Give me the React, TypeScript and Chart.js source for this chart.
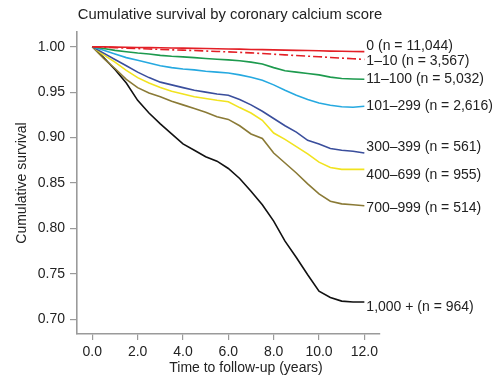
import React, { useEffect, useRef } from "react";
import { Chart, registerables } from "chart.js";

Chart.register(...registerables);

const titleText = "Cumulative survival by coronary calcium score";
const xTitle = "Time to follow-up (years)";
const yTitle = "Cumulative survival";

const years = [0, 0.5, 1, 1.5, 2, 2.5, 3, 3.5, 4, 4.5, 5, 5.5, 6, 6.5, 7, 7.5, 8, 8.5, 9, 9.5, 10, 10.5, 11, 11.5, 12];

const xTicks = [0, 2, 4, 6, 8, 10, 12];
const yTicks = [0.7, 0.75, 0.8, 0.85, 0.9, 0.95, 1.0];

const seriesLabels = [
  "0 (n = 11,044)",
  "1\u201310 (n = 3,567)",
  "11\u2013100 (n = 5,032)",
  "101\u2013299 (n = 2,616)",
  "300\u2013399 (n = 561)",
  "400\u2013699 (n = 955)",
  "700\u2013999 (n = 514)",
  "1,000 + (n = 964)",
];

const score0 = [1.0, 0.9998, 0.9996, 0.9994, 0.9992, 0.999, 0.9988, 0.9986, 0.9984, 0.9982, 0.998, 0.9978, 0.9975, 0.9973, 0.997, 0.9968, 0.9965, 0.9962, 0.996, 0.9958, 0.9955, 0.9952, 0.995, 0.9948, 0.9946];
const score1to10 = [1.0, 0.9995, 0.999, 0.9985, 0.998, 0.9975, 0.997, 0.9966, 0.9962, 0.9958, 0.9953, 0.9948, 0.9943, 0.9938, 0.9932, 0.9925, 0.9918, 0.991, 0.9903, 0.9896, 0.989, 0.9882, 0.9875, 0.9868, 0.986];
const score11to100 = [1.0, 0.998, 0.996, 0.9945, 0.993, 0.992, 0.9905, 0.9895, 0.9888, 0.988, 0.987, 0.9862, 0.9855, 0.9845, 0.983, 0.981, 0.977, 0.9735, 0.972, 0.9705, 0.969, 0.9665, 0.965, 0.9645, 0.9642];
const score101to299 = [1.0, 0.996, 0.992, 0.988, 0.985, 0.982, 0.979, 0.977, 0.9755, 0.9745, 0.973, 0.972, 0.971, 0.969, 0.9665, 0.963, 0.958, 0.952, 0.9465, 0.942, 0.938, 0.9355, 0.934, 0.9333, 0.9345];
const score300to399 = [1.0, 0.993, 0.986, 0.979, 0.972, 0.966, 0.961, 0.958, 0.955, 0.952, 0.95, 0.948, 0.9465, 0.942, 0.936, 0.929, 0.921, 0.913, 0.906, 0.897, 0.893, 0.888, 0.886, 0.885, 0.883];
const score400to699 = [1.0, 0.991, 0.983, 0.974, 0.966, 0.96, 0.955, 0.951, 0.948, 0.945, 0.943, 0.941, 0.9395, 0.933, 0.927, 0.919, 0.905, 0.898, 0.89, 0.882, 0.873, 0.867, 0.865, 0.865, 0.865];
const score700to999 = [1.0, 0.987, 0.976, 0.964, 0.955, 0.949, 0.945, 0.94, 0.936, 0.932, 0.928, 0.923, 0.92, 0.913, 0.904, 0.899, 0.883, 0.872, 0.861, 0.849, 0.838, 0.83, 0.827, 0.826, 0.825];
const score1000plus = [1.0, 0.988, 0.975, 0.96, 0.941, 0.927, 0.915, 0.904, 0.893, 0.886, 0.879, 0.874, 0.866, 0.855, 0.841, 0.826, 0.808, 0.786, 0.768, 0.749, 0.731, 0.724, 0.72, 0.719, 0.719];

const allSeries = [score0, score1to10, score11to100, score101to299, score300to399, score400to699, score700to999, score1000plus];
const colors = ["#e31f26", "#e31f26", "#1d9a4e", "#26a9e0", "#3a4e9c", "#f1e31f", "#8a7a36", "#111111"];
const dashes = [[], [9, 3, 2, 3], [], [], [], [], [], []];
const labelNudge = [-5, 2, 0, 0, -6, 6, 2, 5];

const FONT = "'Liberation Sans', Arial, Helvetica, sans-serif";
const TEXT = "#222222";
const AXIS = "#9a9a9a";

const textPlugin = {
  id: "textPlugin",
  afterDraw(chart: any) {
    const ctx = chart.ctx;
    const xs = chart.scales.x;
    const ys = chart.scales.y;
    const area = chart.chartArea;
    ctx.save();
    ctx.fillStyle = TEXT;
    ctx.textBaseline = "middle";
    ctx.textAlign = "center";
    ctx.font = `14.8px ${FONT}`;
    ctx.fillText(titleText, 230, 15);
    ctx.font = `14px ${FONT}`;
    ctx.fillText(xTitle, 246, 368);
    ctx.save();
    ctx.translate(22, (area.top + area.bottom) / 2);
    ctx.rotate(-Math.PI / 2);
    ctx.fillText(yTitle, 0, 0);
    ctx.restore();
    ctx.textAlign = "left";
    const lastX = xs.getPixelForValue(years[years.length - 1]) + 2;
    allSeries.forEach((s, i) => {
      const py = ys.getPixelForValue(s[s.length - 1]) + labelNudge[i];
      ctx.fillText(seriesLabels[i], lastX, py);
    });
    ctx.restore();
  },
};

export default function App() {
  const ref = useRef<HTMLCanvasElement | null>(null);
  useEffect(() => {
    if (!ref.current) return;
    const chart = new Chart(ref.current, {
      type: "line",
      data: {
        datasets: allSeries.map((s, i) => ({
          label: seriesLabels[i],
          data: s.map((v, j) => ({ x: years[j], y: v })),
          borderColor: colors[i],
          borderWidth: 1.6,
          borderDash: dashes[i],
          pointRadius: 0,
          tension: 0,
          fill: false,
        })),
      },
      options: {
        animation: false,
        responsive: false,
        maintainAspectRatio: false,
        layout: { padding: { top: 32, right: 120, left: 0, bottom: 0 } },
        plugins: { legend: { display: false }, title: { display: false }, tooltip: { enabled: false } },
        scales: {
          x: {
            type: "linear",
            min: -0.675,
            max: 12.69,
            afterBuildTicks: (scale: any) => {
              scale.ticks = xTicks.map((v) => ({ value: v }));
            },
            afterFit: (scale: any) => {
              scale.height = 49;
            },
            ticks: {
              color: TEXT,
              font: { family: FONT, size: 14 },
              padding: 4,
              maxRotation: 0,
              callback: (v: any) => Number(v).toFixed(1),
            },
            grid: { drawOnChartArea: false, drawTicks: true, tickLength: 6, color: AXIS, lineWidth: 1.2 },
            border: { color: AXIS, width: 1.6 },
          },
          y: {
            type: "linear",
            min: 0.6838,
            max: 1.0162,
            afterBuildTicks: (scale: any) => {
              scale.ticks = yTicks.map((v) => ({ value: v }));
            },
            afterFit: (scale: any) => {
              scale.width = 77;
            },
            ticks: {
              color: TEXT,
              font: { family: FONT, size: 14 },
              padding: 5,
              callback: (v: any) => Number(v).toFixed(2),
            },
            grid: { drawOnChartArea: false, drawTicks: true, tickLength: 7, color: AXIS, lineWidth: 1.2 },
            border: { color: AXIS, width: 1.6 },
          },
        },
      },
      plugins: [textPlugin],
    });
    return () => chart.destroy();
  }, []);
  return (
    <div style={{ position: "absolute", left: 0, top: 0, width: 500, height: 383, background: "#ffffff" }}>
      <canvas ref={ref} width={500} height={383} style={{ display: "block" }} />
    </div>
  );
}
